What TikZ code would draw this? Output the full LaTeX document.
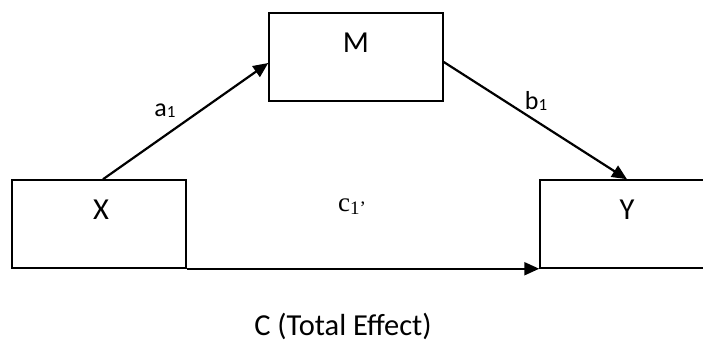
\documentclass[tikz,border=0pt]{standalone}
\usepackage{fontspec}
\setmainfont{Carlito}
\newfontfamily\tnr{Liberation Serif}
\usetikzlibrary{arrows.meta,calc}
\tikzset{
  box/.style={draw=black, line width=1.5pt, minimum width=174pt, minimum height=88pt, inner sep=0pt},
  lbl/.style={inner sep=0pt, font=\fontsize{30.5}{32}\selectfont},
  coef/.style={inner sep=0pt, font=\fontsize{26}{28}\selectfont},
  path/.style={draw=black, line width=2.2pt, -{Triangle[length=15pt,width=13pt]}}
}
\newcommand{\subone}{{\fontsize{17}{17}\selectfont\raisebox{-1pt}{1}}}
\begin{document}
\begin{tikzpicture}[x=1pt,y=-1pt]
\useasboundingbox (0,0) rectangle (703,345);
\node[box] (M) at (356,57) {};
\node[box] (X) at (99,224) {};
\node[box] (Y) at (627,224) {};
\node[lbl] (Mt) at (356,43) {M};
\node[lbl] (Xt) at (101,210) {X};
\node[lbl] (Yt) at (627,210) {Y};
\node[coef] (a1) at (165,111) {a\subone};
\node[coef] (b1) at (536,101) {b\subone};
\node[inner sep=0pt, font=\tnr\fontsize{27}{29}\selectfont] (c1) at (352,207) {c{\fontsize{19}{19}\selectfont\raisebox{-3pt}{1’}}};
\node[lbl] (tot) at (343,326) {C (Total Effect)};
\draw[path] ($(X.north)+(4,0)$) -- ($(M.west)+(0,6)$);
\draw[path] ($(M.east)+(0,5)$) -- (Y.north);
\draw[path] (X.south east) -- (Y.south west);
\end{tikzpicture}
\end{document}
